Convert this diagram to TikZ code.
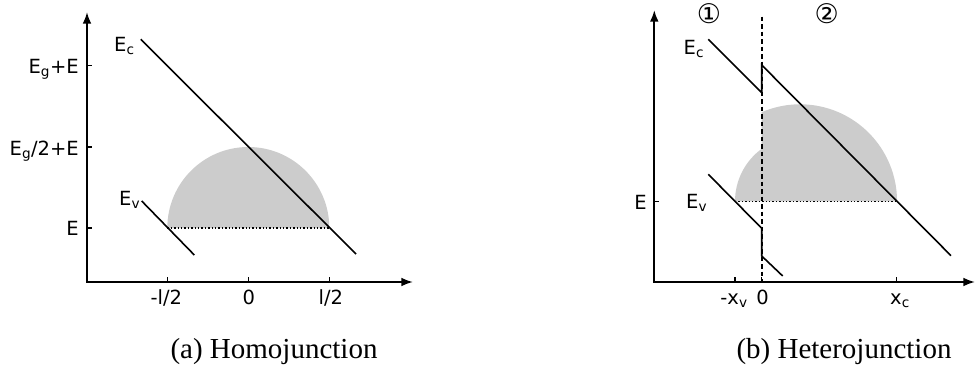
\documentclass[tikz,border=0pt]{standalone}
\usepackage{fontspec}
\setmainfont{DejaVu Sans}
\newfontfamily\capfont{Liberation Serif}
\usetikzlibrary{arrows.meta}
\newcommand{\lowidx}[1]{\textsubscript{#1}}

\begin{document}
\begin{tikzpicture}[x=1pt,y=1pt,>=Latex,font=\fontsize{19.5}{22}\selectfont,
  axis/.style={line width=1.9pt},
  tickmark/.style={line width=1.5pt},
  band/.style={line width=1.6pt},
  lbl/.style={inner sep=0pt},
  dens/.style={fill=black!20},
  diam/.style={line width=1.4pt,dash pattern=on 1.4pt off 2pt},
  iface/.style={line width=1.6pt,dash pattern=on 4.5pt off 3pt}]
\path[use as bounding box] (0,0) rectangle (976,389);

% (a) homojunction
\fill[dens] (167.3,161) arc[start angle=180,end angle=0,radius=81] -- cycle;
\draw[diam] (167.3,161) -- (329.3,161);
\draw[axis,<->] (87,377) -- (87,107) -- (413,107);
\foreach \y in {323.3,242,161}
  \draw[tickmark] (87,\y) -- (92,\y);
\foreach \x in {167.3,248.3,329.3}
  \draw[tickmark] (\x,107) -- (\x,112);
\draw[band] (140.7,349.7) -- (356,135);
\draw[band] (141.7,188) -- (194.3,134);

\node[lbl,anchor=base west] (ecA) at (114,337.3) {E\lowidx{c}};
\node[lbl,anchor=base west] (evA) at (119,184) {E\lowidx{v}};
\node[lbl,anchor=base east] (egA) at (79,315.7) {E\lowidx{g}+E};
\node[lbl,anchor=base east] (eghA) at (79,234) {E\lowidx{g}/2+E};
\node[lbl,anchor=base east] (eA) at (79,154) {E};
\node[lbl,anchor=base] (mlA) at (166.3,84.7) {-l/2};
\node[lbl,anchor=base] (zA) at (248.8,84.7) {0};
\node[lbl,anchor=base] (plA) at (330.8,84.7) {l/2};
\node[lbl,anchor=base] (capA) at (274,31) {\capfont\fontsize{29}{32}\selectfont (a) Homojunction};

% (b) heterojunction
\fill[dens] (735,187.7) arc[start angle=180,end angle=126.1,radius=65]
  -- (761.7,276.8) arc[start angle=113.3,end angle=0,radius=97] -- cycle;
\draw[diam] (735,187.7) -- (896.7,187.7);
\draw[axis,<->] (654.3,379) -- (654.3,107) -- (975,107);
\draw[tickmark] (654.3,187.7) -- (659.3,187.7);
\foreach \x in {735,761.7,896.7}
  \draw[tickmark] (\x,107) -- (\x,112);
\draw[band] (708.3,349.7) -- (761.7,296.3) -- (761.7,324) -- (951,133.3);
\draw[band] (708.3,214.7) -- (761.7,160.7) -- (761.7,133) -- (782.7,113);
\draw[iface] (761.7,372.3) -- (761.7,107);

\node[lbl] (one) at (709,375.7) {\fontsize{27}{27}\selectfont ①};
\node[lbl] (two) at (826.7,375.7) {\fontsize{27}{27}\selectfont ②};
\node[lbl,anchor=base west] (ecB) at (683.5,334.7) {E\lowidx{c}};
\node[lbl,anchor=base west] (evB) at (686,180.7) {E\lowidx{v}};
\node[lbl,anchor=base east] (eB) at (647,179.7) {E};
\node[lbl,anchor=base] (xvB) at (734,84.7) {-x\lowidx{v}};
\node[lbl,anchor=base] (zB) at (762.5,84.7) {0};
\node[lbl,anchor=base] (xcB) at (900,84.7) {x\lowidx{c}};
\node[lbl,anchor=base] (capB) at (844,31) {\capfont\fontsize{29}{32}\selectfont (b) Heterojunction};
\end{tikzpicture}
\end{document}
